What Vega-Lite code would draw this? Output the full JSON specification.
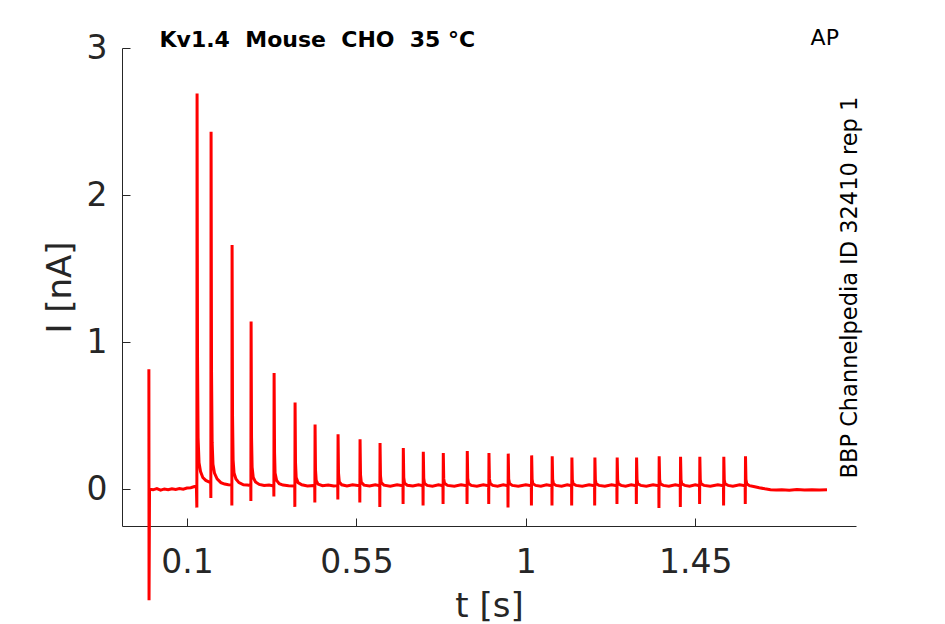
{
  "$schema": "https://vega.github.io/schema/vega-lite/v6.json",
  "width": 734,
  "height": 478,
  "autosize": {"type": "none"},
  "padding": {"left": 122, "top": 48, "right": 89, "bottom": 98},
  "background": "white",
  "config": {
    "view": {"stroke": null},
    "font": "DejaVu Sans",
    "axis": {
      "grid": false,
      "domainColor": "#262626",
      "tickColor": "#262626",
      "labelColor": "#262626",
      "titleColor": "#262626",
      "labelFont": "DejaVu Sans",
      "titleFont": "DejaVu Sans",
      "labelFontSize": 33,
      "titleFontSize": 34,
      "titleFontWeight": "normal",
      "tickSize": -8,
      "domainWidth": 1,
      "tickWidth": 1
    }
  },
  "layer": [
    {
      "data": {"values": [
        {"t": -0.0012, "i": 0.816}, {"t": -0.0008, "i": -0.755}, {"t": 0.0005, "i": 0.0},
        {"t": 0.01, "i": -0.004}, {"t": 0.02, "i": 0.004}, {"t": 0.03, "i": -0.006}, {"t": 0.04, "i": 0.002},
        {"t": 0.05, "i": -0.003}, {"t": 0.06, "i": 0.003}, {"t": 0.07, "i": -0.002}, {"t": 0.08, "i": 0.004},
        {"t": 0.09, "i": 0.0}, {"t": 0.1, "i": 0.008}, {"t": 0.11, "i": 0.01}, {"t": 0.12, "i": 0.018}, {"t": 0.125, "i": 0.02},
        {"t": 0.1262, "i": -0.125}, {"t": 0.1268, "i": 2.69}, {"t": 0.128, "i": 0.9}, {"t": 0.1295, "i": 0.35},
        {"t": 0.132, "i": 0.18}, {"t": 0.136, "i": 0.12}, {"t": 0.142, "i": 0.08}, {"t": 0.15, "i": 0.06},
        {"t": 0.158, "i": 0.05}, {"t": 0.163, "i": 0.045},
        {"t": 0.1634, "i": -0.06}, {"t": 0.164, "i": 2.43}, {"t": 0.1652, "i": 0.8}, {"t": 0.1668, "i": 0.32},
        {"t": 0.169, "i": 0.17}, {"t": 0.173, "i": 0.11}, {"t": 0.18, "i": 0.07}, {"t": 0.19, "i": 0.045},
        {"t": 0.2, "i": 0.035}, {"t": 0.21, "i": 0.03}, {"t": 0.219, "i": 0.028},
        {"t": 0.2192, "i": -0.11}, {"t": 0.2198, "i": 1.66}, {"t": 0.221, "i": 0.5}, {"t": 0.2225, "i": 0.2},
        {"t": 0.225, "i": 0.11}, {"t": 0.23, "i": 0.07}, {"t": 0.238, "i": 0.045}, {"t": 0.25, "i": 0.03},
        {"t": 0.26, "i": 0.028}, {"t": 0.2695, "i": 0.025},
        {"t": 0.2697, "i": -0.08}, {"t": 0.2703, "i": 1.14}, {"t": 0.2715, "i": 0.35}, {"t": 0.273, "i": 0.15},
        {"t": 0.276, "i": 0.08}, {"t": 0.282, "i": 0.05}, {"t": 0.292, "i": 0.033}, {"t": 0.305, "i": 0.025},
        {"t": 0.318, "i": 0.028}, {"t": 0.3305, "i": 0.022},
        {"t": 0.3308, "i": -0.05}, {"t": 0.3314, "i": 0.79}, {"t": 0.3326, "i": 0.25}, {"t": 0.334, "i": 0.11},
        {"t": 0.338, "i": 0.06}, {"t": 0.345, "i": 0.038}, {"t": 0.355, "i": 0.028}, {"t": 0.37, "i": 0.024},
        {"t": 0.3862, "i": 0.022},
        {"t": 0.3865, "i": -0.12}, {"t": 0.3871, "i": 0.59}, {"t": 0.3883, "i": 0.18}, {"t": 0.39, "i": 0.08},
        {"t": 0.395, "i": 0.045}, {"t": 0.405, "i": 0.03}, {"t": 0.42, "i": 0.022}, {"t": 0.4393, "i": 0.026},
        {"t": 0.4396, "i": -0.09}, {"t": 0.4402, "i": 0.44}, {"t": 0.4414, "i": 0.13}, {"t": 0.4432, "i": 0.06},
        {"t": 0.448, "i": 0.035}, {"t": 0.46, "i": 0.024}, {"t": 0.475, "i": 0.028}, {"t": 0.49, "i": 0.022},
        {"t": 0.5004, "i": 0.025},
        {"t": 0.5007, "i": -0.07}, {"t": 0.5013, "i": 0.374}, {"t": 0.5025, "i": 0.11}, {"t": 0.5045, "i": 0.05},
        {"t": 0.511, "i": 0.03}, {"t": 0.525, "i": 0.022}, {"t": 0.54, "i": 0.03}, {"t": 0.5588, "i": 0.024},
        {"t": 0.5591, "i": -0.09}, {"t": 0.5597, "i": 0.34}, {"t": 0.5609, "i": 0.1}, {"t": 0.5629, "i": 0.048},
        {"t": 0.57, "i": 0.028}, {"t": 0.585, "i": 0.022}, {"t": 0.6, "i": 0.03}, {"t": 0.6119, "i": 0.024},
        {"t": 0.6122, "i": -0.12}, {"t": 0.6128, "i": 0.315}, {"t": 0.614, "i": 0.09}, {"t": 0.616, "i": 0.045},
        {"t": 0.623, "i": 0.028}, {"t": 0.64, "i": 0.021}, {"t": 0.658, "i": 0.03}, {"t": 0.6737, "i": 0.023},
        {"t": 0.674, "i": -0.1}, {"t": 0.6746, "i": 0.28}, {"t": 0.6758, "i": 0.08}, {"t": 0.6778, "i": 0.042},
        {"t": 0.685, "i": 0.027}, {"t": 0.7, "i": 0.022}, {"t": 0.715, "i": 0.03}, {"t": 0.7268, "i": 0.024},
        {"t": 0.7271, "i": -0.11}, {"t": 0.7277, "i": 0.254}, {"t": 0.7289, "i": 0.075}, {"t": 0.7309, "i": 0.04},
        {"t": 0.738, "i": 0.026}, {"t": 0.752, "i": 0.021}, {"t": 0.768, "i": 0.03}, {"t": 0.7799, "i": 0.024},
        {"t": 0.7802, "i": -0.1}, {"t": 0.7808, "i": 0.247}, {"t": 0.782, "i": 0.072}, {"t": 0.784, "i": 0.04},
        {"t": 0.792, "i": 0.026}, {"t": 0.81, "i": 0.021}, {"t": 0.828, "i": 0.03}, {"t": 0.8436, "i": 0.024},
        {"t": 0.8439, "i": -0.1}, {"t": 0.8445, "i": 0.26}, {"t": 0.8457, "i": 0.075}, {"t": 0.8477, "i": 0.04},
        {"t": 0.855, "i": 0.026}, {"t": 0.87, "i": 0.021}, {"t": 0.887, "i": 0.03}, {"t": 0.9012, "i": 0.024},
        {"t": 0.9015, "i": -0.1}, {"t": 0.9021, "i": 0.247}, {"t": 0.9033, "i": 0.072}, {"t": 0.9053, "i": 0.04},
        {"t": 0.912, "i": 0.026}, {"t": 0.925, "i": 0.021}, {"t": 0.94, "i": 0.03}, {"t": 0.9524, "i": 0.024},
        {"t": 0.9527, "i": -0.125}, {"t": 0.9533, "i": 0.242}, {"t": 0.9545, "i": 0.07}, {"t": 0.9565, "i": 0.04},
        {"t": 0.964, "i": 0.026}, {"t": 0.98, "i": 0.021}, {"t": 1.0, "i": 0.03}, {"t": 1.0146, "i": 0.024},
        {"t": 1.0149, "i": -0.11}, {"t": 1.0155, "i": 0.23}, {"t": 1.0167, "i": 0.068}, {"t": 1.0187, "i": 0.038},
        {"t": 1.026, "i": 0.026}, {"t": 1.04, "i": 0.021}, {"t": 1.055, "i": 0.03}, {"t": 1.0692, "i": 0.024},
        {"t": 1.0695, "i": -0.11}, {"t": 1.0701, "i": 0.224}, {"t": 1.0713, "i": 0.066}, {"t": 1.0733, "i": 0.038},
        {"t": 1.08, "i": 0.026}, {"t": 1.095, "i": 0.021}, {"t": 1.11, "i": 0.03}, {"t": 1.1215, "i": 0.024},
        {"t": 1.1218, "i": -0.11}, {"t": 1.1224, "i": 0.215}, {"t": 1.1236, "i": 0.064}, {"t": 1.1256, "i": 0.037},
        {"t": 1.133, "i": 0.026}, {"t": 1.15, "i": 0.021}, {"t": 1.168, "i": 0.03}, {"t": 1.1826, "i": 0.024},
        {"t": 1.1829, "i": -0.11}, {"t": 1.1835, "i": 0.215}, {"t": 1.1847, "i": 0.064}, {"t": 1.1867, "i": 0.037},
        {"t": 1.194, "i": 0.026}, {"t": 1.21, "i": 0.021}, {"t": 1.228, "i": 0.03}, {"t": 1.2418, "i": 0.024},
        {"t": 1.2421, "i": -0.1}, {"t": 1.2427, "i": 0.215}, {"t": 1.2439, "i": 0.064}, {"t": 1.2459, "i": 0.037},
        {"t": 1.253, "i": 0.026}, {"t": 1.265, "i": 0.021}, {"t": 1.28, "i": 0.03}, {"t": 1.2933, "i": 0.024},
        {"t": 1.2936, "i": -0.1}, {"t": 1.2942, "i": 0.215}, {"t": 1.2954, "i": 0.064}, {"t": 1.2974, "i": 0.037},
        {"t": 1.305, "i": 0.026}, {"t": 1.32, "i": 0.021}, {"t": 1.338, "i": 0.03}, {"t": 1.3533, "i": 0.024},
        {"t": 1.3536, "i": -0.127}, {"t": 1.3542, "i": 0.224}, {"t": 1.3554, "i": 0.066}, {"t": 1.3574, "i": 0.037},
        {"t": 1.365, "i": 0.026}, {"t": 1.38, "i": 0.021}, {"t": 1.397, "i": 0.03}, {"t": 1.4101, "i": 0.024},
        {"t": 1.4104, "i": -0.12}, {"t": 1.411, "i": 0.22}, {"t": 1.4122, "i": 0.065}, {"t": 1.4142, "i": 0.037},
        {"t": 1.422, "i": 0.026}, {"t": 1.435, "i": 0.021}, {"t": 1.45, "i": 0.03}, {"t": 1.4613, "i": 0.024},
        {"t": 1.4616, "i": -0.1}, {"t": 1.4622, "i": 0.22}, {"t": 1.4634, "i": 0.065}, {"t": 1.4654, "i": 0.037},
        {"t": 1.473, "i": 0.026}, {"t": 1.49, "i": 0.021}, {"t": 1.51, "i": 0.03}, {"t": 1.525, "i": 0.024},
        {"t": 1.5253, "i": -0.11}, {"t": 1.5259, "i": 0.22}, {"t": 1.5271, "i": 0.065}, {"t": 1.5291, "i": 0.037},
        {"t": 1.537, "i": 0.026}, {"t": 1.55, "i": 0.021}, {"t": 1.568, "i": 0.03}, {"t": 1.5826, "i": 0.024},
        {"t": 1.5829, "i": -0.1}, {"t": 1.5835, "i": 0.224}, {"t": 1.5847, "i": 0.066}, {"t": 1.5867, "i": 0.037},
        {"t": 1.594, "i": 0.024}, {"t": 1.605, "i": 0.018}, {"t": 1.62, "i": 0.01}, {"t": 1.635, "i": 0.003},
        {"t": 1.65, "i": -0.003}, {"t": 1.665, "i": -0.006}, {"t": 1.68, "i": -0.003}, {"t": 1.7, "i": -0.007},
        {"t": 1.72, "i": -0.002}, {"t": 1.74, "i": -0.006}, {"t": 1.76, "i": -0.003}, {"t": 1.78, "i": -0.006},
        {"t": 1.8, "i": -0.004}
      ]},
      "mark": {"type": "line", "color": "#ff0000", "strokeWidth": 3, "clip": false},
      "encoding": {
        "x": {
          "field": "t",
          "type": "quantitative",
          "title": "t [s]",
          "scale": {"domain": [-0.0726, 1.877], "nice": false, "zero": false},
          "axis": {"values": [0.1, 0.55, 1, 1.45], "format": ".3~g", "labelPadding": 28, "titlePadding": 10, "labelFlush": false}
        },
        "y": {
          "field": "i",
          "type": "quantitative",
          "title": "I [nA]",
          "scale": {"domain": [-0.25, 3], "nice": false, "zero": false},
          "axis": {"values": [0, 1, 2, 3], "format": "d", "labelPadding": 23, "titlePadding": 9, "labelFlush": false}
        }
      }
    },
    {
      "data": {"values": [{"label": "Kv1.4\u00a0 Mouse\u00a0 CHO\u00a0 35 °C"}]},
      "mark": {"type": "text", "font": "DejaVu Sans", "fontWeight": "bold", "fontSize": 22, "color": "black", "align": "center", "baseline": "middle"},
      "encoding": {
        "x": {"datum": 0.4464},
        "y": {"datum": 3.054},
        "text": {"field": "label"}
      }
    },
    {
      "data": {"values": [{"label": "AP"}]},
      "mark": {"type": "text", "font": "DejaVu Sans", "fontSize": 22, "color": "black", "align": "center", "baseline": "middle"},
      "encoding": {
        "x": {"datum": 1.794},
        "y": {"datum": 3.068},
        "text": {"field": "label"}
      }
    },
    {
      "data": {"values": [{"label": "BBP Channelpedia ID 32410 rep 1"}]},
      "mark": {"type": "text", "font": "DejaVu Sans", "fontSize": 22.5, "color": "black", "align": "center", "baseline": "middle", "angle": 270},
      "encoding": {
        "x": {"datum": 1.86},
        "y": {"datum": 1.371},
        "text": {"field": "label"}
      }
    }
  ]
}
